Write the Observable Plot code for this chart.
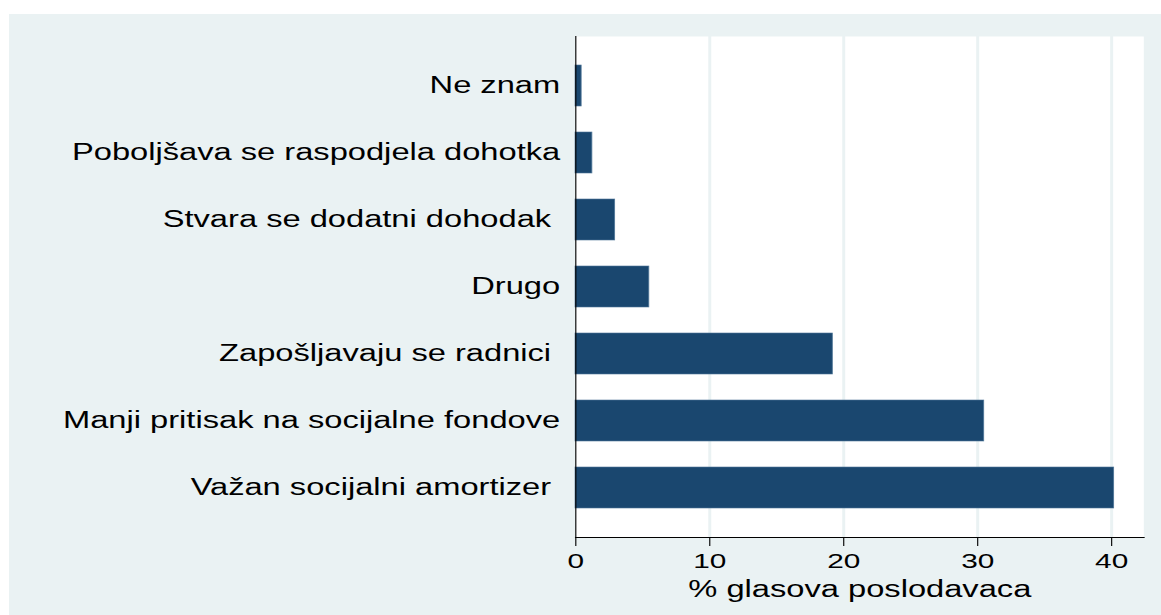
<!DOCTYPE html>
<html>
<head>
<meta charset="utf-8">
<script src="https://cdn.jsdelivr.net/npm/d3@7"></script>
<script src="https://cdn.jsdelivr.net/npm/@observablehq/plot@0.6"></script>
<style>
  html, body { margin: 0; padding: 0; background: #ffffff; }
  #wrap { position: relative; width: 1161px; height: 615px; overflow: hidden; background: #ffffff; }
  #panel { position: absolute; left: 9px; top: 14px; right: 0; bottom: 0; background: #eaf2f3; }
  #chart { position: absolute; left: 0; top: 0; }
  #chart svg { transform: scaleX(1.42); transform-origin: 0 0; }
</style>
</head>
<body>
<div id="wrap">
  <div id="panel"></div>
  <div id="chart"></div>
</div>
<script>
// Categories (top to bottom) and values (% of employer votes)
const categories = [
  "Ne znam",
  "Poboljšava se raspodjela dohotka",
  "Stvara se dodatni dohodak ",
  "Drugo",
  "Zapošljavaju se radnici ",
  "Manji pritisak na socijalne fondove",
  "Važan socijalni amortizer "
];
const values = [0.45, 1.25, 2.95, 5.5, 19.2, 30.5, 40.2];
const xTicks = [0, 10, 20, 30, 40];
const xLabel = "% glasova poslodavaca";

const data = categories.map((c, i) => ({category: c, value: values[i]}));

const chart = Plot.plot({
  width: 818,
  height: 615,
  marginLeft: 405,
  marginRight: 13,
  marginTop: 36,
  marginBottom: 78,
  style: {
    background: "transparent",
    overflow: "visible",
    maxWidth: "none",
    fontFamily: "'Liberation Sans', Arial, sans-serif",
    color: "#000000"
  },
  x: {domain: [0, 42.4]},
  y: {domain: categories, paddingInner: 0.39, paddingOuter: 0.425, align: 0.5},
  marks: [
    Plot.frame({fill: "#ffffff", stroke: null}),
    Plot.gridX({ticks: xTicks.filter(d => d > 0), stroke: "#eaf2f3", strokeOpacity: 1, strokeWidth: 2.1}),
    Plot.barX(data, {x: "value", y: "category", fill: "#1a476f", stroke: "#4f7697", strokeWidth: 0.6}),
    Plot.ruleX([0], {stroke: "#000000", strokeWidth: 0.8}),
    Plot.frame({anchor: "bottom", stroke: "#000000", strokeWidth: 1.2}),
    Plot.axisY({
      tickSize: 0,
      tickPadding: 11,
      fontSize: 23,
      label: null,
      tickFormat: d => d.replace(/ $/, "\u00a0")
    }),
    Plot.axisX({
      ticks: xTicks,
      tickSize: 9,
      tickPadding: 7,
      fontSize: 21,
      strokeWidth: 0.8,
      label: null
    }),
    Plot.axisX({
      ticks: [],
      tickSize: 0,
      label: xLabel,
      labelAnchor: "center",
      labelArrow: false,
      labelOffset: 59,
      fontSize: 23
    })
  ]
});

document.getElementById("chart").appendChild(chart);
</script>
</body>
</html>
